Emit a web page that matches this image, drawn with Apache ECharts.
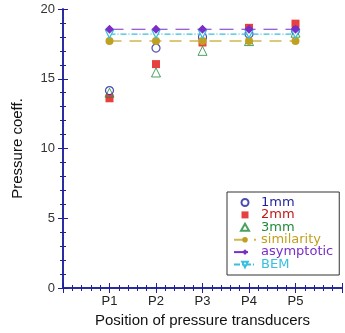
<!DOCTYPE html>
<html>
<head>
<meta charset="utf-8">
<script src="https://cdn.jsdelivr.net/npm/echarts@6/dist/echarts.min.js"></script>
<style>
html, body { margin: 0; padding: 0; background: #fff; }
#main { width: 345px; height: 333px; }
</style>
</head>
<body>
<div id="main"></div>
<script>
// 数据
var positions = [1, 2, 3, 4, 5];
var tickLabels = ['P1', 'P2', 'P3', 'P4', 'P5'];
var mm1 = [14.15, 17.2, 18.0, 18.2, 18.45];
var mm2 = [13.6, 16.05, 17.6, 18.65, 18.95];
var mm3 = [14.0, 15.45, 17.0, 17.7, 18.3];
var similarity = [17.7, 17.7, 17.7, 17.7, 17.7];
var asymptotic = [18.55, 18.55, 18.55, 18.55, 18.55];
var bem = [18.2, 18.2, 18.2, 18.2, 18.2];

function pairs(ys) {
	return positions.map(function (x, i) { return [x, ys[i]]; });
}

var axisColor = '#1f1f9c';

function valAxis(extra) {
	var base = {
		type: 'value',
		axisLine: { show: true, lineStyle: { color: axisColor, width: 1.5 } },
		axisTick: { show: true, inside: true, length: 5, lineStyle: { color: axisColor } },
		minorTick: { show: true, splitNumber: 5, length: 3, lineStyle: { color: axisColor } },
		splitLine: { show: false },
		axisLabel: { show: false }
	};
	return Object.assign(base, extra);
}

// 图例里散点的小图标 (保持比例)
var iconCircle = 'path://M0,4 A4,4 0 1,1 8,4 A4,4 0 1,1 0,4 Z';
var iconSquare = 'path://M0,0 L8,0 L8,8 L0,8 Z';
var iconTri = 'path://M4,0 L8,7 L0,7 Z';

echarts.init(document.getElementById('main')).setOption({
	backgroundColor: '#fff',
	animation: false,
	textStyle: { fontFamily: 'Liberation Sans' },
	grid: { left: 63, top: 9, right: -4, bottom: 45 },
	legend: {
		orient: 'vertical',
		left: 227,
		top: 192,
		backgroundColor: '#fff',
		borderColor: '#333',
		borderWidth: 1,
		padding: [4, 6, 4, 6],
		itemWidth: 22,
		itemHeight: 7,
		itemGap: -0.6,
		textStyle: { fontFamily: 'DejaVu Sans', fontSize: 13, lineHeight: 12 },
		data: [
			{ name: '1mm', icon: iconCircle, textStyle: { color: '#1f1f9c' } },
			{ name: '2mm', icon: iconSquare, textStyle: { color: '#c01818' } },
			{ name: '3mm', icon: iconTri, textStyle: { color: '#1f8a3a' } },
			{ name: 'similarity', textStyle: { color: '#c0a020' } },
			{ name: 'asymptotic', textStyle: { color: '#7a2ec8' } },
			{ name: 'BEM', textStyle: { color: '#38c0e0' } }
		]
	},
	xAxis: [
		valAxis({
			min: 0, max: 6, interval: 1,
			name: 'Position of pressure transducers',
			nameLocation: 'middle',
			nameGap: 23,
			nameTextStyle: { fontSize: 15, color: '#111' },
			axisLabel: {
				show: true, margin: 7, fontSize: 13, color: '#222',
				formatter: function (v) { return (v >= 1 && v <= 5) ? tickLabels[v - 1] : ''; }
			}
		}),
		valAxis({ min: 0, max: 6, interval: 1, position: 'top' })
	],
	yAxis: [
		valAxis({
			min: 0, max: 20, interval: 5,
			name: 'Pressure coeff.',
			nameLocation: 'middle',
			nameGap: 38,
			nameTextStyle: { fontSize: 15, color: '#111' },
			axisLabel: { show: true, margin: 8, fontSize: 13, color: '#333' }
		}),
		valAxis({ min: 0, max: 20, interval: 5, position: 'right' })
	],
	series: [
		{
			name: 'similarity', type: 'line', data: pairs(similarity),
			symbol: 'circle', symbolSize: 8,
			itemStyle: { color: '#c0a020' },
			lineStyle: { color: '#d0b850', width: 1.5, type: [12, 8] }
		},
		{
			name: 'BEM', type: 'line', data: pairs(bem),
			symbol: 'triangle', symbolRotate: 180, symbolSize: 8,
			itemStyle: { color: '#fff', borderColor: '#38c0e0', borderWidth: 1.2 },
			lineStyle: { color: '#38c0e0', width: 1.2, type: [6, 2, 1, 2] }
		},
		{
			name: '2mm', type: 'scatter', data: pairs(mm2),
			symbol: 'rect', symbolSize: 8,
			itemStyle: { color: '#e01010' }
		},
		{
			name: '3mm', type: 'scatter', data: pairs(mm3),
			symbol: 'triangle', symbolSize: 9,
			itemStyle: { color: 'rgba(255,255,255,0)', borderColor: '#1f8a3a', borderWidth: 1 }
		},
		{
			name: '1mm', type: 'scatter', data: pairs(mm1),
			symbol: 'circle', symbolSize: 8,
			itemStyle: { color: 'rgba(255,255,255,0)', borderColor: '#1f1f9c', borderWidth: 1.2 }
		},
		{
			name: 'asymptotic', type: 'line', data: pairs(asymptotic),
			symbol: 'diamond', symbolSize: 9,
			itemStyle: { color: '#7a2ec8' },
			lineStyle: { color: '#7a2ec8', width: 1.2, type: [14, 8] }
		}
	]
});
</script>
</body>
</html>
